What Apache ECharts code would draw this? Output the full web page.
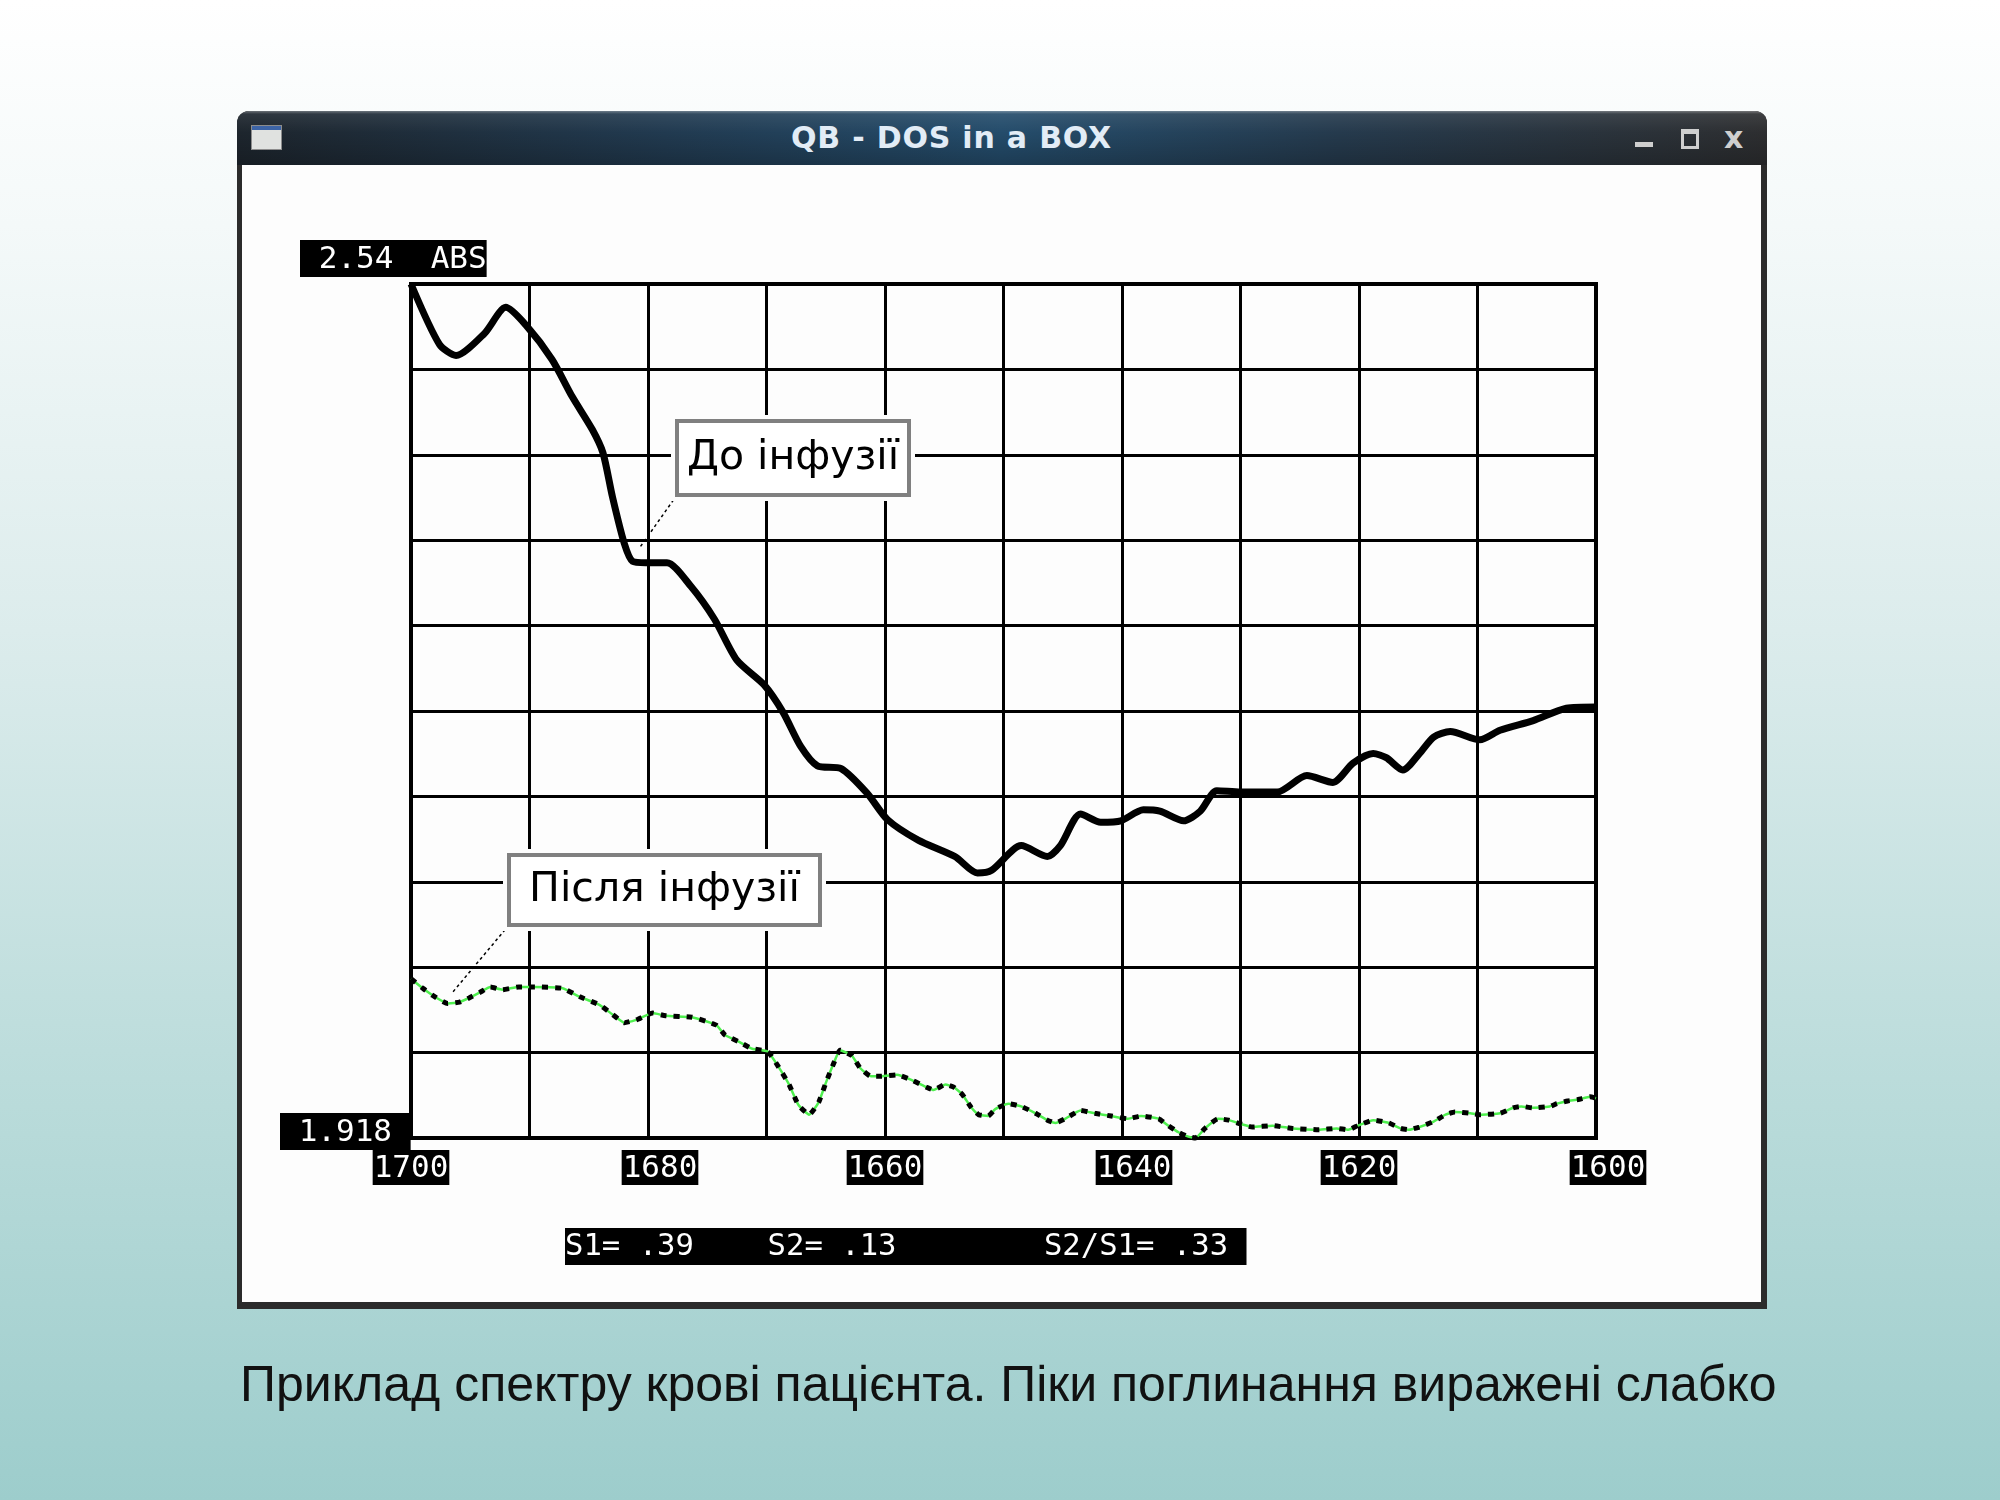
<!DOCTYPE html>
<html lang="uk">
<head>
<meta charset="utf-8">
<title>Приклад спектру крові пацієнта</title>
<script src="https://cdn.jsdelivr.net/npm/echarts@6/dist/echarts.min.js"></script>
<style>
  html,body{margin:0;padding:0;}
  body{width:2000px;height:1500px;position:relative;overflow:hidden;
    background:linear-gradient(to bottom,#ffffff 0%,#f4f9f9 15%,#dcecec 42%,#bddddc 70%,#9dcdcc 100%);}
  #win{position:absolute;left:237px;top:111px;width:1530px;height:1198px;background:#2b2b2b;border-radius:12px 12px 0 0;overflow:hidden;}
  #bar{position:absolute;left:0;top:0;width:100%;height:54px;
    background:linear-gradient(to bottom,rgba(255,255,255,.35) 0,rgba(255,255,255,.08) 3px,rgba(0,0,0,0) 40%,rgba(0,0,0,.22) 100%),
               linear-gradient(to right,#1d252d 0%,#213a50 28%,#244c6b 50%,#253a4d 72%,#2d2e30 100%);}
  #ico{position:absolute;left:14px;top:14px;width:29px;height:23px;border:1px solid #8c8c8c;
    background:linear-gradient(to bottom,#3d64a6 0,#3d64a6 4px,#e0e2e0 4px);}
  #ttl{position:absolute;left:554px;top:9px;height:54px;line-height:54px;font:bold 30px "DejaVu Sans";letter-spacing:0.8px;color:#e2ecf6;}
  #bmin{position:absolute;left:1398px;top:31px;width:18px;height:5px;background:#cfcfcf;}
  #bmax{position:absolute;left:1444px;top:18px;width:12px;height:12px;border:3px solid #cfcfcf;border-top-width:5px;}
  #bx{position:absolute;left:1487px;top:9px;height:54px;line-height:54px;font:bold 30px "DejaVu Sans";color:#cfcfcf;}
  #client{position:absolute;left:5px;top:54px;width:1519px;height:1137px;background:#fdfdfd;}
  #cap{position:absolute;left:240px;top:1355px;font:50px "Liberation Sans",Arial,sans-serif;color:#111;white-space:nowrap;}
  #chart{position:absolute;left:0;top:0;width:2000px;height:1500px;}
</style>
</head>
<body>
<div id="win">
  <div id="bar">
    <div id="ico"></div>
    <div id="ttl">QB - DOS in a BOX</div>
    <div id="bmin"></div><div id="bmax"></div><div id="bx">x</div>
  </div>
  <div id="client"></div>
</div>
<div id="cap">Приклад спектру крові пацієнта. Піки поглинання виражені слабко</div>
<div id="chart"></div>
<script>
// ===== Дані (зчитано з рисунку) =====
// хвильове число, см-1 (вісь іде від 1700 до 1600)
const WN_BEFORE = [1700,1697.6,1696.2,1693.8,1692.0,1690.3,1688.1,1686.4,1684.7,1683.8,1683.0,1682.0,1681.3,1680.2,1678.4,1676.4,1674.4,1672.5,1670.2,1668.6,1667.1,1665.7,1663.7,1661.5,1659.8,1657.2,1654.1,1652.2,1651.0,1648.5,1646.3,1645.2,1643.5,1641.8,1640.1,1638.2,1636.8,1634.8,1633.4,1632.0,1630.0,1626.9,1624.4,1622.2,1620.5,1618.8,1617.7,1616.3,1614.9,1613.7,1612.3,1609.8,1608.1,1605.3,1602.5,1600];
const ABS_BEFORE = [2.540,2.496,2.488,2.504,2.523,2.510,2.485,2.458,2.434,2.417,2.385,2.351,2.338,2.337,2.337,2.320,2.296,2.266,2.248,2.228,2.203,2.189,2.187,2.169,2.150,2.135,2.123,2.111,2.113,2.131,2.123,2.131,2.154,2.148,2.149,2.157,2.156,2.149,2.156,2.171,2.170,2.170,2.182,2.177,2.191,2.198,2.195,2.186,2.198,2.210,2.214,2.208,2.215,2.222,2.231,2.232];

const WN_AFTER = [1700,1699.0,1698.2,1696.9,1695.9,1695.1,1694.2,1693.3,1692.3,1690.9,1689.6,1687.2,1685.8,1684.1,1683.0,1682.0,1681.0,1679.6,1678.5,1676.3,1675.1,1674.2,1673.5,1672.3,1671.2,1669.9,1669.0,1668.1,1667.3,1666.4,1665.6,1665.0,1664.3,1663.8,1662.8,1662.1,1661.2,1660.3,1659.0,1657.7,1656.5,1655.9,1654.9,1654.2,1653.5,1652.7,1652.1,1651.3,1650.7,1649.6,1648.5,1647.3,1646.3,1645.6,1644.8,1643.5,1642.3,1640.9,1639.5,1638.4,1636.9,1636.1,1635.2,1634.4,1633.8,1633.0,1631.9,1631.0,1629.9,1629.0,1627.3,1625.6,1623.4,1621.9,1620.9,1620.1,1618.8,1617.5,1616.5,1615.8,1614.9,1613.7,1612.7,1611.9,1610.6,1609.8,1608.1,1607.0,1606.3,1605.3,1603.9,1603.3,1602.4,1601.5,1600.5,1600];
const ABS_AFTER = [2.034,2.027,2.022,2.016,2.017,2.020,2.024,2.028,2.026,2.028,2.028,2.027,2.021,2.015,2.008,2.002,2.004,2.009,2.007,2.006,2.003,2.000,1.993,1.988,1.983,1.981,1.970,1.957,1.942,1.935,1.944,1.958,1.973,1.982,1.978,1.969,1.963,1.963,1.964,1.960,1.955,1.953,1.957,1.955,1.950,1.940,1.935,1.934,1.939,1.943,1.941,1.936,1.931,1.929,1.932,1.938,1.936,1.934,1.932,1.934,1.932,1.927,1.922,1.919,1.918,1.925,1.932,1.931,1.928,1.926,1.927,1.925,1.924,1.925,1.924,1.927,1.931,1.929,1.925,1.924,1.926,1.930,1.935,1.937,1.936,1.935,1.936,1.940,1.941,1.940,1.941,1.943,1.945,1.946,1.948,1.947];

const X_LABELS = [1700,1680,1660,1640,1620,1600];
const Y_TOP = 2.54, Y_BOTTOM = 1.918;
const Y_TOP_LABEL = ' 2.54  ABS', Y_BOTTOM_LABEL = ' 1.918 ';
const STATS_LINE = 'S1= .39    S2= .13        S2/S1= .33 ';
const NOTE_BEFORE = 'До інфузії', NOTE_AFTER = 'Після інфузії';
const NOTE_BEFORE_AT = [1680.7, 2.348], NOTE_AFTER_AT = [1696.5, 2.024];

(function(){
  const MONO = '"DejaVu Sans Mono", monospace';
  const zip = (xs, ys) => xs.map((x,i) => [x, ys[i]]);

  const chart = echarts.init(document.getElementById('chart'), null, {renderer:'canvas'});

  // у DOS-вікні підписи стоять у текстових комірках, тому частина зсунута вправо
  const shifted = v => (v === 1680 || v === 1640 || v === 1600);

  chart.setOption({
    animation:false,
    grid:{left:411, top:284, right:404, bottom:362, show:true, borderColor:'#000', borderWidth:4, backgroundColor:'transparent'},
    xAxis:{
      type:'value', min:1600, max:1700, interval:10, inverse:true,
      axisLine:{show:true, lineStyle:{color:'#000', width:4}},
      axisTick:{show:false},
      splitLine:{show:true, lineStyle:{color:'#000', width:3}},
      axisLabel:{
        margin:13, fontFamily:MONO, fontSize:31, lineHeight:33,
        formatter:v => X_LABELS.indexOf(v) < 0 ? '' : (shifted(v) ? '{g|}' : '') + '{b|' + v + '}',
        rich:{
          b:{color:'#fff', backgroundColor:'#000', fontFamily:MONO, fontSize:31, lineHeight:33, padding:[3,1,1,1]},
          g:{width:24}
        }
      }
    },
    yAxis:[
      {type:'value', min:Y_BOTTOM, max:Y_TOP, axisLabel:{show:false}, axisTick:{show:false},
       axisLine:{show:true, lineStyle:{color:'#000', width:4}}, splitLine:{show:false}},
      // допоміжна вісь лише для сітки 10 x 10
      {type:'value', min:0, max:10, interval:1, position:'left', axisLabel:{show:false}, axisTick:{show:false},
       axisLine:{show:false}, splitLine:{show:true, lineStyle:{color:'#000', width:3}}}
    ],
    series:[
      {name:NOTE_BEFORE, type:'line', data:zip(WN_BEFORE, ABS_BEFORE), showSymbol:false, smooth:0.25,
       lineStyle:{color:'#000', width:7}, z:4},
      {name:NOTE_AFTER, type:'line', data:zip(WN_AFTER, ABS_AFTER), showSymbol:false, smooth:0.15, clip:false,
       lineStyle:{color:'#4ff04f', width:2.5}, z:4},
      {name:NOTE_AFTER+' ', type:'line', data:zip(WN_AFTER, ABS_AFTER), showSymbol:false, smooth:0.15, clip:false,
       lineStyle:{color:'#000', width:5, type:[6,7], cap:'butt'}, z:5}
    ]
  });

  // ===== Підписи, рамки, виноски =====
  const px = v => chart.convertToPixel({seriesIndex:0}, v);
  const tl = px([1700, Y_TOP]), bl = px([1700, Y_BOTTOM]);
  const aBefore = px(NOTE_BEFORE_AT), aAfter = px(NOTE_AFTER_AT);

  function monoBox(x, y, text, size){
    return {type:'text', x:x, y:y, z:20,
      style:{text:text, fill:'#fff', font:(size||31)+'px '+MONO, backgroundColor:'#000', padding:[3,0,1,0], lineHeight:33}};
  }
  function note(x, y, w, h, text, anchor){
    return [
      {type:'rect', shape:{x:x-6, y:y-6, width:w+12, height:h+12}, style:{fill:'#fdfdfd'}, z:20},
      {type:'rect', shape:{x:x, y:y, width:w, height:h}, style:{fill:'#fff', stroke:'#808080', lineWidth:4}, z:21},
      {type:'text', x:x+w/2, y:y+h/2, z:22,
        style:{text:text, fill:'#000', font:'41px "DejaVu Sans"', align:'center', verticalAlign:'middle'}},
      {type:'line', shape:{x1:x, y1:y+h, x2:anchor[0], y2:anchor[1]}, z:19,
        style:{stroke:'#000', lineWidth:1.5, lineDash:[3,3]}}
    ];
  }

  chart.setOption({graphic:[
    monoBox(tl[0]-111, tl[1]-44, Y_TOP_LABEL),
    monoBox(bl[0]-131, bl[1]-25, Y_BOTTOM_LABEL),
    monoBox(565, 1228, STATS_LINE, 30.6),
    ...note(677, 421, 232, 74, NOTE_BEFORE, aBefore),
    ...note(509, 855, 311, 70, NOTE_AFTER, aAfter)
  ]});
})();
</script>
</body>
</html>
